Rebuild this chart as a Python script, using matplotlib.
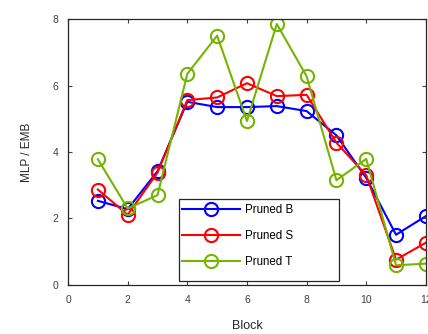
import matplotlib
matplotlib.use("Agg")
import matplotlib.pyplot as plt
from matplotlib.patches import Rectangle

plt.rcParams['font.family'] = ['Liberation Sans', 'DejaVu Sans']

blocks = [1, 2, 3, 4, 5, 6, 7, 8, 9, 10, 11, 12]
pruned_b = [2.53, 2.28, 3.42, 5.51, 5.35, 5.35, 5.38, 5.23, 4.5, 3.22, 1.51, 2.07]
pruned_s = [2.87, 2.11, 3.38, 5.56, 5.64, 6.07, 5.68, 5.72, 4.28, 3.3, 0.76, 1.27]
pruned_t = [3.78, 2.3, 2.7, 6.35, 7.5, 4.93, 7.85, 6.28, 3.15, 3.79, 0.59, 0.64]

xticks = [0, 2, 4, 6, 8, 10, 12]
yticks = [0, 2, 4, 6, 8]

fig = plt.figure(figsize=(4.28, 3.34), dpi=100)
ax = fig.add_axes([0.159, 0.147, 0.836, 0.796])

ms = 9.5
lw = 1.5
ax.plot(blocks, pruned_b, '-o', color=(0, 0, 1), lw=lw, ms=ms, mfc='none', mew=1.5, label='Pruned B')
ax.plot(blocks, pruned_s, '-o', color=(1, 0, 0), lw=lw, ms=ms, mfc='none', mew=1.5, label='Pruned S')
ax.plot(blocks, pruned_t, '-o', color='#74B500', lw=lw, ms=ms, mfc='none', mew=1.5, label='Pruned T')

ax.set_xlim(0, 12)
ax.set_ylim(0, 8)
ax.set_xticks(xticks)
ax.set_yticks(yticks)
ax.tick_params(direction='in', top=True, right=True, length=3, width=0.8,
               labelsize=7.5, labelcolor='#404040', color='#404040', pad=7)
for s in ax.spines.values():
    s.set_linewidth(0.9)
    s.set_color('#262626')

ax.set_xlabel('Block', fontsize=9, color='#262626', labelpad=11)
ax.set_ylabel('MLP / EMB', fontsize=8.5, color='#262626', labelpad=14)

# legend frame drawn separately (MATLAB-style box)
frame = Rectangle((0.310, 0.015), 0.447, 0.308, transform=ax.transAxes,
                  facecolor='white', edgecolor='#262626', lw=0.9, zorder=4)
ax.add_patch(frame)
leg = ax.legend(loc='upper left', bbox_to_anchor=(0.310, 0.317),
                fontsize=8.3, frameon=False,
                handlelength=5.0, handletextpad=0.45, borderaxespad=0, labelspacing=1.22,
                borderpad=0.3)
leg.set_zorder(5)

fig.savefig('out.png', dpi=100)
